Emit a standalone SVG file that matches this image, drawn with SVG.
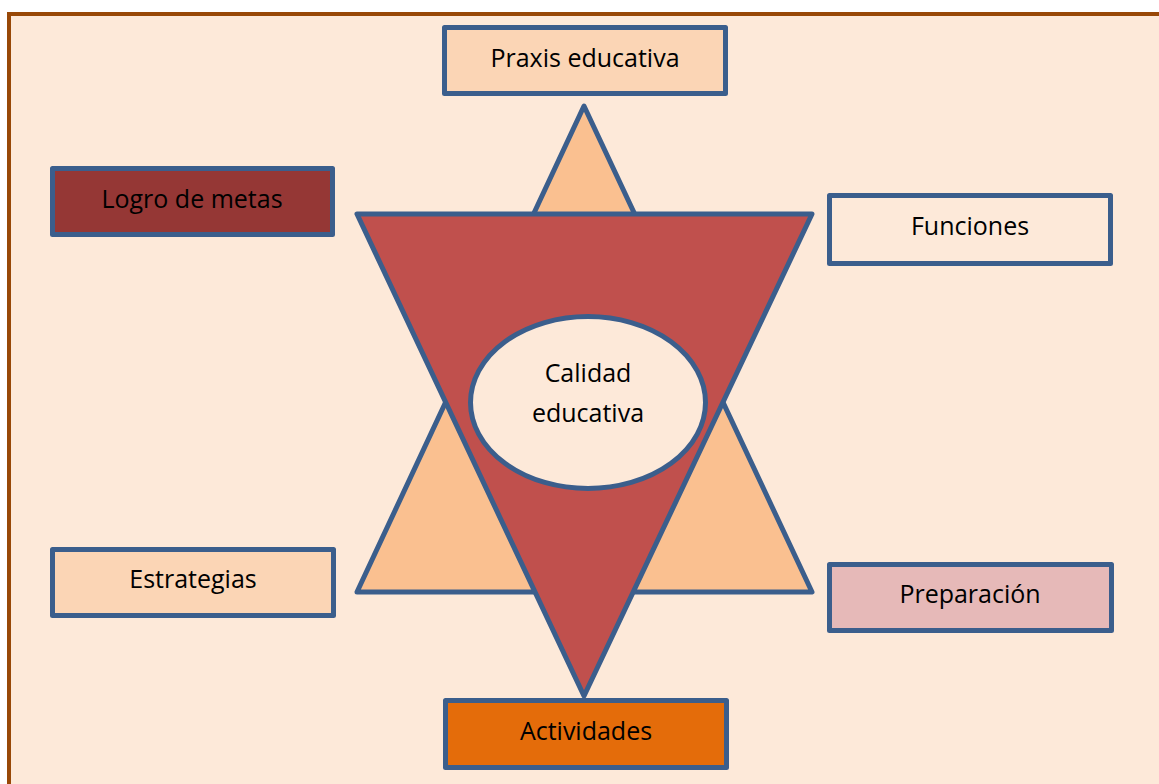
<svg xmlns="http://www.w3.org/2000/svg" width="1159" height="784" viewBox="0 0 1159 784">
<style>
.frame{fill:#FDE9D9;stroke:#984807;stroke-width:4}
.sh{stroke:#3B5E8C;stroke-width:5;stroke-linejoin:round}
.t{font-family:"Open Sans","Noto Sans",sans-serif;font-size:25px;fill:#000;text-anchor:middle}
</style>
<rect x="0" y="0" width="1159" height="784" fill="#ffffff"/>
<rect class="frame" x="9" y="14" width="1200" height="820"/>
<g id="star">
<polygon class="sh" fill="#FAC090" points="584,106 812,592 357,592"/>
<polygon class="sh" fill="#C0504D" points="357,214 812,214 584,696"/>
</g>
<g id="connectors"></g>
<g id="center">
<ellipse class="sh" fill="#FDE9D9" cx="588" cy="402.5" rx="117.5" ry="86"/>
<text class="t" x="588" y="382">Calidad</text>
<text class="t" x="588" y="422">educativa</text>
</g>
<g id="praxis">
<rect class="sh" fill="#FBD5B5" x="444.5" y="27.5" width="281" height="66"/>
<text class="t" x="585" y="67">Praxis educativa</text>
</g>
<g id="logro">
<rect class="sh" fill="#953735" x="52.5" y="168.5" width="280" height="66"/>
<text class="t" x="192" y="208">Logro de metas</text>
</g>
<g id="funciones">
<rect class="sh" fill="#FDE9D9" x="829.5" y="195.5" width="281" height="68"/>
<text class="t" x="970" y="235">Funciones</text>
</g>
<g id="estrategias">
<rect class="sh" fill="#FBD5B5" x="52.5" y="549.5" width="281" height="66"/>
<text class="t" x="193" y="588">Estrategias</text>
</g>
<g id="preparacion">
<rect class="sh" fill="#E6B9B8" x="829.5" y="564.5" width="282" height="66"/>
<text class="t" x="970" y="603">Preparación</text>
</g>
<g id="actividades">
<rect class="sh" fill="#E46C0A" x="445.5" y="700.5" width="281" height="67"/>
<text class="t" x="586" y="740">Actividades</text>
</g>
</svg>
